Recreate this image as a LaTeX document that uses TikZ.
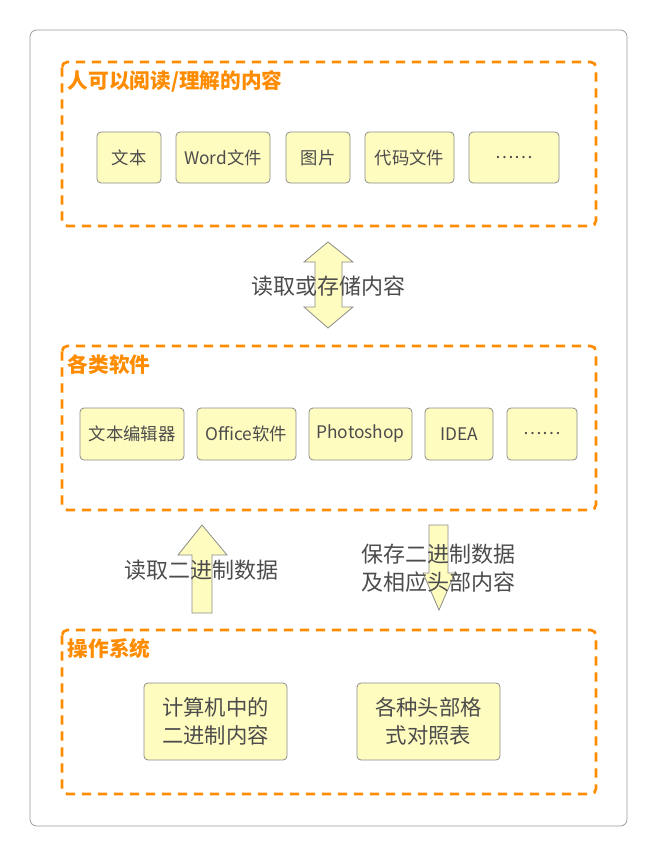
\documentclass[tikz,border=0pt]{standalone}
\usepackage{fontspec}
\setmainfont{Noto Sans CJK SC}
\begin{document}
\begin{tikzpicture}[x=0.75pt,y=-0.75pt,
  box/.style={draw=black!45,fill=yellow!25,rounded corners=3pt,line width=0.6pt,text=black!70,font=\fontsize{13}{15}\selectfont,align=center,inner sep=0pt},
  big/.style={font=\fontsize{16}{21}\selectfont},
  grp/.style={draw=orange!90!yellow,dashed,dash pattern=on 7pt off 5pt,line width=2pt,rounded corners=4pt},
  ttl/.style={text=orange!90!yellow,font=\bfseries\fontsize{15.5}{18}\selectfont,anchor=west},
  arr/.style={draw=black!45,fill=yellow!25,line width=0.6pt,line join=miter},
  lbl/.style={text=black!70,font=\fontsize{16.5}{21}\selectfont,align=left}]
\useasboundingbox (0,0) rectangle (657,856);
\draw[black!40,rounded corners=5pt,line width=0.6pt] (30,30) rectangle (627,826);
\draw[grp] (62,62) rectangle (596,226);
\draw[grp] (62,346) rectangle (596,510);
\draw[grp] (62,630) rectangle (596,794);
\node[ttl] (t1) at (63,81) {人可以阅读/理解的内容};
\node[ttl] (t2) at (63,365) {各类软件};
\node[ttl] (t3) at (63,649) {操作系统};
\newcommand\bx[7]{\node[box,#7,minimum width=#4*0.75pt-#2*0.75pt,minimum height=#5*0.75pt-#3*0.75pt] (#1) at ({(#2+#4)/2},{(#3+#5)/2}) {#6};}
\bx{a1}{97}{132}{161}{183}{文本}{}
\bx{a2}{176}{132}{270}{183}{Word文件}{}
\bx{a3}{286}{132}{350}{183}{图片}{}
\bx{a4}{365}{132}{454}{183}{代码文件}{}
\bx{a5}{469}{132}{559}{183}{……}{}
\bx{b1}{80}{408}{184}{460}{文本编辑器}{}
\bx{b2}{197}{408}{296}{460}{Office软件}{}
\bx{b3}{309}{408}{412}{460}{Photoshop}{}
\bx{b4}{425}{408}{493}{460}{IDEA}{}
\bx{b5}{507}{408}{577}{460}{……}{}
\bx{c1}{144}{683}{287}{760}{计算机中的\\二进制内容}{big}
\bx{c2}{357}{683}{500}{760}{各种头部格\\式对照表}{big}
% double arrow
\draw[arr] (328,242) -- (353,262) -- (342,262) -- (342,307) -- (353,307) -- (328,328) -- (304,307) -- (315,307) -- (315,262) -- (304,262) -- cycle;
\node[lbl] (l1) at (328,286) {读取或存储内容};
% up arrow
\draw[arr] (202,525) -- (227,555) -- (212,555) -- (212,613) -- (192,613) -- (192,555) -- (178,555) -- cycle;
\node[lbl] (l2) at (201,570) {读取二进制数据};
% down arrow
\draw[arr] (429,525) -- (448,525) -- (448,573) -- (455,573) -- (439,610) -- (423,573) -- (429,573) -- cycle;
\node[lbl,anchor=west] (l3) at (357,568) {保存二进制数据\\及相应头部内容};
\end{tikzpicture}
\end{document}
